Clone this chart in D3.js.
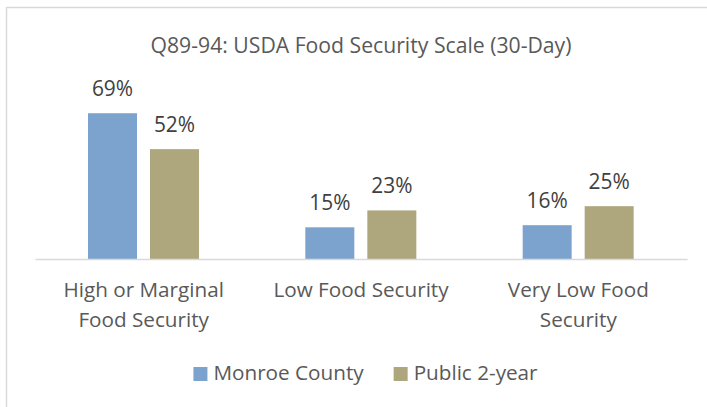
<!DOCTYPE html>
<html>
<head>
<meta charset="utf-8">
<script src="https://cdn.jsdelivr.net/npm/d3@7"></script>
<style>
	body { margin: 0 ; background: #fff ; }
	text { font-family: "Open Sans", sans-serif ; }
</style>
</head>
<body>
<svg id="chart" width="707" height="407"></svg>
<script>
var title = 'Q89-94: USDA Food Security Scale (30-Day)' ;
var categories = ['High or Marginal Food Security', 'Low Food Security', 'Very Low Food Security'] ;
var categoryLines = [['High or Marginal', 'Food Security'], ['Low Food Security'], ['Very Low Food', 'Security']] ;
var seriesNames = ['Monroe County', 'Public 2-year'] ;
var monroeCounty = [69, 15, 16] ;
var public2Year = [52, 23, 25] ;
var seriesColors = ['#7ba3ce', '#aea67d'] ;

var width = 707, height = 407 ;
var svg = d3.select('#chart') ;

// chart frame, right and bottom edges fall outside the picture
svg.append('rect').attr('x', 6.5).attr('y', 7.5).attr('width', 720).attr('height', 420)
	.attr('fill', '#fff').attr('stroke', '#d9d9d9').attr('stroke-width', 1.5) ;

svg.append('text').attr('x', 361).attr('y', 53).attr('text-anchor', 'middle')
	.attr('fill', '#595959').style('font-size', '21.2px').text(title) ;

var x0 = d3.scaleBand().domain(categories).range([35, 687]) ;
var x1 = d3.scaleBand().domain(seriesNames).range([53, 164]).paddingInner(0.21) ;
var y = d3.scaleLinear().domain([0, 80]).range([259, 90]) ;

var rows = categories.map(function(c, i) { return [monroeCounty[i], public2Year[i]] ; }) ;

var groups = svg.selectAll('g.group').data(rows).enter().append('g')
	.attr('class', 'group')
	.attr('transform', function(d, i) { return 'translate(' + x0(categories[i]) + ',0)' ; }) ;

groups.selectAll('rect').data(function(d) { return d ; }).enter().append('rect')
	.attr('x', function(d, j) { return x1(seriesNames[j]) ; })
	.attr('y', function(d) { return y(d) ; })
	.attr('width', x1.bandwidth())
	.attr('height', function(d) { return y(0) - y(d) ; })
	.attr('fill', function(d, j) { return seriesColors[j] ; }) ;

groups.selectAll('text.lbl').data(function(d) { return d ; }).enter().append('text')
	.attr('class', 'lbl')
	.attr('x', function(d, j) { return x1(seriesNames[j]) + x1.bandwidth() / 2 ; })
	.attr('y', function(d) { return y(d) - 17 ; })
	.attr('text-anchor', 'middle')
	.attr('fill', '#404040').style('font-size', '20.9px')
	.text(function(d) { return d + '%' ; }) ;

var axis = svg.append('g').attr('transform', 'translate(0,' + y(0) + ')')
	.call(d3.axisBottom(x0).tickSize(0).tickSizeOuter(0)) ;
axis.select('.domain').attr('stroke', '#d9d9d9').attr('stroke-width', 1.5) ;
axis.selectAll('.tick text').remove() ;
axis.selectAll('.tick').append('text')
	.attr('text-anchor', 'middle').attr('fill', '#595959')
	.style('font-size', '20.7px')
	.each(function(d, i) {
		var t = d3.select(this) ;
		categoryLines[i].forEach(function(line, k) {
			t.append('tspan').attr('x', 0).attr('y', 38 + k * 30).text(line) ;
		}) ;
	}) ;

// legend, laid out from the measured label widths
var legend = svg.append('g') ;
var items = legend.selectAll('g').data(seriesNames).enter().append('g') ;
items.append('rect').attr('width', 14).attr('height', 14).attr('y', 367)
	.attr('fill', function(d, j) { return seriesColors[j] ; }) ;
items.append('text').attr('x', 20).attr('y', 380).attr('fill', '#595959')
	.style('font-size', '20.7px').text(function(d) { return d ; }) ;
var pos = 0, offsets = [] ;
items.each(function() {
	offsets.push(pos) ;
	pos += 20 + d3.select(this).select('text').node().getComputedTextLength() + 30 ;
}) ;
var total = pos - 30 ;
var start = 365.5 - total / 2 ;
items.attr('transform', function(d, j) { return 'translate(' + (start + offsets[j]) + ',0)' ; }) ;
</script>
</body>
</html>
